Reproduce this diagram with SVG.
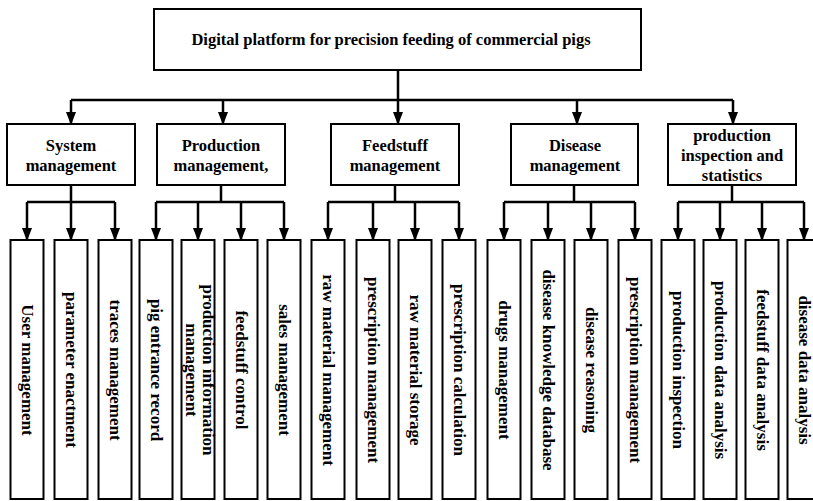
<svg xmlns="http://www.w3.org/2000/svg" width="813" height="501" viewBox="0 0 813 501">
<style>
.box{fill:#fff;stroke:#000;stroke-width:2}
.ln{fill:none;stroke:#000;stroke-width:2.5}
.ar{fill:none;stroke:#000;stroke-width:2.5;marker-end:url(#ah)}
text{font-family:"Liberation Serif","Times New Roman",serif;font-weight:bold;fill:#000}
.t1{font-size:16.5px;text-anchor:middle}
.t2{font-size:16.5px;text-anchor:middle}
.t3{font-size:17px;text-anchor:middle}
</style>
<defs>
<marker id="ah" markerUnits="userSpaceOnUse" markerWidth="13" markerHeight="10" refX="12" refY="5" orient="auto" viewBox="0 0 13 10">
<path d="M0,0 L13,5 L0,10 Z" fill="#000"/>
</marker>
</defs>
<rect width="813" height="501" fill="#fff"/>
<g id="connectors">
<path class="ln" d="M398,70 V100 M71,100 H733"/>
<path class="ar" d="M71,100 V124"/>
<path class="ar" d="M223,100 V124"/>
<path class="ar" d="M398,100 V124"/>
<path class="ar" d="M577,100 V124"/>
<path class="ar" d="M733,100 V124"/>
<path class="ln" d="M71,185 V202 M27,202 H115 M221,185 V202 M156,202 H284 M395,185 V202 M328,202 H459 M574,185 V202 M504,202 H635 M732,185 V202 M678,202 H804"/>
<path class="ar" d="M27,202 V240"/>
<path class="ar" d="M71,202 V240"/>
<path class="ar" d="M115,202 V240"/>
<path class="ar" d="M156,202 V240"/>
<path class="ar" d="M198,202 V240"/>
<path class="ar" d="M241,202 V240"/>
<path class="ar" d="M284,202 V240"/>
<path class="ar" d="M328,202 V240"/>
<path class="ar" d="M373,202 V240"/>
<path class="ar" d="M415,202 V240"/>
<path class="ar" d="M459,202 V240"/>
<path class="ar" d="M504,202 V240"/>
<path class="ar" d="M548,202 V240"/>
<path class="ar" d="M591,202 V240"/>
<path class="ar" d="M635,202 V240"/>
<path class="ar" d="M678,202 V240"/>
<path class="ar" d="M720,202 V240"/>
<path class="ar" d="M762,202 V240"/>
<path class="ar" d="M804,202 V240"/>
</g>
<g id="root">
<rect class="box" x="154" y="9" width="487" height="61"/>
<text class="t1" x="391" y="45">Digital platform for precision feeding of commercial pigs</text>
</g>
<g id="system">
<rect class="box" x="7" y="124" width="128" height="61"/>
<text class="t2" x="71" y="150.5">System</text>
<text class="t2" x="71" y="170.5">management</text>
</g>
<g id="production">
<rect class="box" x="157" y="124" width="128" height="61"/>
<text class="t2" x="221" y="150.5">Production</text>
<text class="t2" x="221" y="170.5">management,</text>
</g>
<g id="feedstuff">
<rect class="box" x="331" y="124" width="128" height="61"/>
<text class="t2" x="395" y="150.5">Feedstuff</text>
<text class="t2" x="395" y="170.5">management</text>
</g>
<g id="disease">
<rect class="box" x="511" y="124" width="127" height="61"/>
<text class="t2" x="575" y="150.5">Disease</text>
<text class="t2" x="575" y="170.5">management</text>
</g>
<g id="inspection">
<rect class="box" x="668" y="124" width="128" height="61"/>
<text class="t2" x="732" y="140.5">production</text>
<text class="t2" x="732" y="160.5">inspection and</text>
<text class="t2" x="732" y="181">statistics</text>
</g>
<g id="leaf1"><rect class="box" x="10.5" y="240" width="33" height="259"/><text class="t3" transform="translate(27,370) rotate(90)" y="5">User management</text></g>
<g id="leaf2"><rect class="box" x="54.5" y="240" width="33" height="259"/><text class="t3" transform="translate(71,370) rotate(90)" y="5">parameter enactment</text></g>
<g id="leaf3"><rect class="box" x="98.5" y="240" width="33" height="259"/><text class="t3" transform="translate(115,370) rotate(90)" y="5">traces management</text></g>
<g id="leaf4"><rect class="box" x="139.5" y="240" width="33" height="259"/><text class="t3" transform="translate(156,370) rotate(90)" y="5">pig entrance record</text></g>
<g id="leaf5"><rect class="box" x="181.5" y="240" width="33" height="259"/><text class="t3" transform="translate(198,370) rotate(90)"><tspan x="0" y="-4.5">production information</tspan><tspan x="0" y="12.5">management</tspan></text></g>
<g id="leaf6"><rect class="box" x="224.5" y="240" width="33" height="259"/><text class="t3" transform="translate(241,370) rotate(90)" y="5">feedstuff control</text></g>
<g id="leaf7"><rect class="box" x="267.5" y="240" width="33" height="259"/><text class="t3" transform="translate(284,370) rotate(90)" y="5">sales management</text></g>
<g id="leaf8"><rect class="box" x="311.5" y="240" width="33" height="259"/><text class="t3" transform="translate(328,370) rotate(90)" y="5">raw material management</text></g>
<g id="leaf9"><rect class="box" x="356.5" y="240" width="33" height="259"/><text class="t3" transform="translate(373,370) rotate(90)" y="5">prescription management</text></g>
<g id="leaf10"><rect class="box" x="398.5" y="240" width="33" height="259"/><text class="t3" transform="translate(415,370) rotate(90)" y="5">raw material storage</text></g>
<g id="leaf11"><rect class="box" x="442.5" y="240" width="33" height="259"/><text class="t3" transform="translate(459,370) rotate(90)" y="5">prescription calculation</text></g>
<g id="leaf12"><rect class="box" x="487.5" y="240" width="33" height="259"/><text class="t3" transform="translate(504,370) rotate(90)" y="5">drugs management</text></g>
<g id="leaf13"><rect class="box" x="531.5" y="240" width="33" height="259"/><text class="t3" transform="translate(548,370) rotate(90)" y="5">disease knowledge database</text></g>
<g id="leaf14"><rect class="box" x="574.5" y="240" width="33" height="259"/><text class="t3" transform="translate(591,370) rotate(90)" y="5">disease reasoning</text></g>
<g id="leaf15"><rect class="box" x="618.5" y="240" width="33" height="259"/><text class="t3" transform="translate(635,370) rotate(90)" y="5">prescription management</text></g>
<g id="leaf16"><rect class="box" x="661.5" y="240" width="33" height="259"/><text class="t3" transform="translate(678,370) rotate(90)" y="5">production inspection</text></g>
<g id="leaf17"><rect class="box" x="703.5" y="240" width="33" height="259"/><text class="t3" transform="translate(720,370) rotate(90)" y="5">production data analysis</text></g>
<g id="leaf18"><rect class="box" x="745.5" y="240" width="33" height="259"/><text class="t3" transform="translate(762,370) rotate(90)" y="5">feedstuff data analysis</text></g>
<g id="leaf19"><rect class="box" x="787.5" y="240" width="33" height="259"/><text class="t3" transform="translate(804,370) rotate(90)" y="5">disease data analysis</text></g>
</svg>
